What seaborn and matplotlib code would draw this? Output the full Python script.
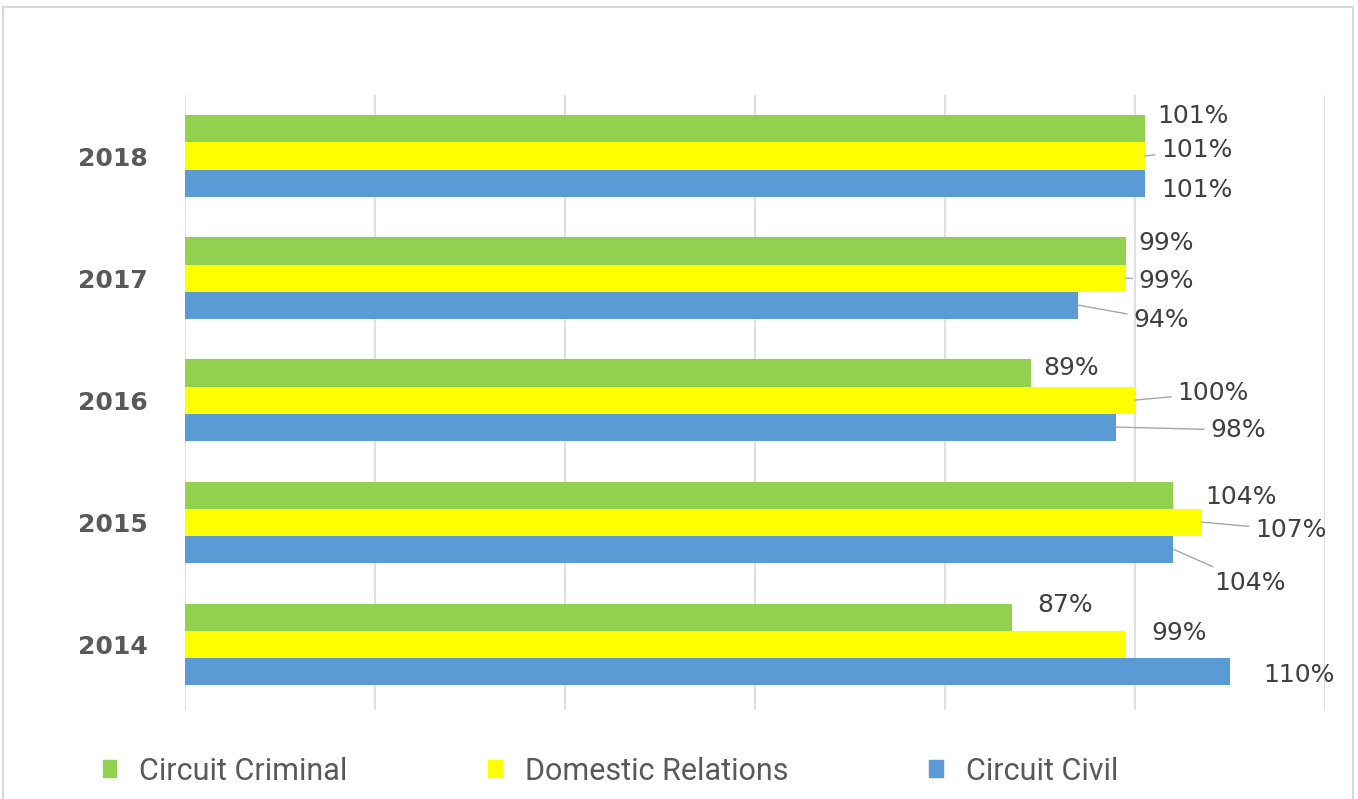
import matplotlib
matplotlib.use("Agg")
import matplotlib.pyplot as plt
import seaborn as sns
import pandas as pd
from matplotlib.patches import Rectangle

# ---- data ----
years = ["2018", "2017", "2016", "2015", "2014"]
series = ["Circuit Criminal", "Domestic Relations", "Circuit Civil"]
circuit_criminal = [101, 99, 89, 104, 87]
domestic_relations = [101, 99, 100, 107, 99]
circuit_civil = [101, 94, 98, 104, 110]
colors = ["#92D050", "#FFFF00", "#5B9BD5"]

rows = []
for name, vals in zip(series, [circuit_criminal, domestic_relations, circuit_civil]):
    for y, v in zip(years, vals):
        rows.append({"Year": y, "Series": name, "Value": v})
df = pd.DataFrame(rows)

# label offsets in pixels (dx, dy) per series per year, and whether a leader line is drawn
label_offsets = {
    "Circuit Criminal":   [(48, 13), (41, 8), (41, 5), (68, -2), (54, 12)],
    "Domestic Relations": [(52, 6), (41, -3), (78, 7), (89, -8), (54, 11)],
    "Circuit Civil":      [(52, -7), (83, -15), (122, -3), (77, -34), (69, -4)],
}
leaders = {
    "Circuit Criminal":   [False, False, False, False, False],
    "Domestic Relations": [True, True, True, True, False],
    "Circuit Civil":      [False, True, True, True, False],
}

sns.set_theme(style="white")
plt.rcParams["font.family"] = ["DejaVu Sans"]

fig = plt.figure(figsize=(13.58, 7.99), dpi=100)
ax = fig.add_axes([185/1358, 1-710/799, (1325-185)/1358, (710-95)/799])

sns.barplot(data=df, y="Year", x="Value", hue="Series", order=years,
            hue_order=series, palette=colors, orient="h", width=0.665,
            saturation=1, ax=ax, legend=False, linewidth=0)

ax.set_xlim(0, 120)
ax.set_ylim(4.54, -0.5)
ax.set_xticks(range(0, 121, 20))
ax.set_xticklabels([])
ax.tick_params(axis="x", length=0)
ax.tick_params(axis="y", length=0, pad=27)
ax.grid(axis="x", color="#d9d9d9", linewidth=1.2)
ax.set_axisbelow(True)
for s in ax.spines.values():
    s.set_visible(False)
ax.set_xlabel("")
ax.set_ylabel("")
for lab in ax.get_yticklabels():
    lab.set_fontweight("bold")
    lab.set_fontsize(18)
    lab.set_color("#595959")

# data labels
n = len(series)
bw = 0.665 / n
for si, name in enumerate(series):
    vals = df[df["Series"] == name].set_index("Year").loc[years, "Value"].tolist()
    for yi, v in enumerate(vals):
        yc = yi + (si - 1) * bw
        dx, dy = label_offsets[name][yi]
        kw = {}
        if leaders[name][yi]:
            kw["arrowprops"] = dict(arrowstyle="-", color="#a6a6a6", lw=1,
                                    shrinkA=2, shrinkB=0)
        ax.annotate(f"{v}%", xy=(v, yc), xytext=(dx, dy),
                    textcoords="offset pixels", ha="center", va="center",
                    fontsize=18, color="#404040", **kw)

# legend
handles = [Rectangle((0, 0), 1, 1, color=c) for c in colors]
leg = fig.legend(handles, series, loc="center", bbox_to_anchor=(0.4495, 1-771/799),
                 ncol=3, frameon=False, prop={"family": "Roboto", "size": 22},
                 handlelength=0.45, handleheight=0.45, handletextpad=0.75,
                 columnspacing=4.6)
for t in leg.get_texts():
    t.set_color("#595959")

# outer border
fig.patches.append(Rectangle((3/1358, -0.01), 1350/1358, 1-7/799+0.01,
                             transform=fig.transFigure, fill=False,
                             edgecolor="#d9d9d9", linewidth=1.5))

fig.savefig("out.png", dpi=100)
